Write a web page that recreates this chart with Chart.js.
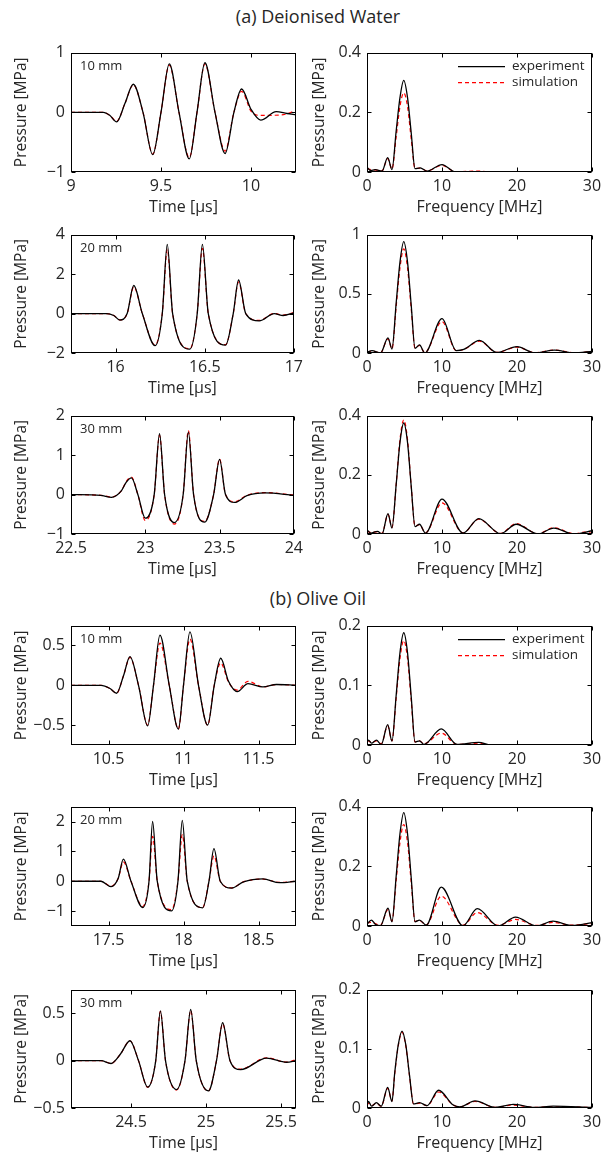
<!DOCTYPE html>
<html><head><meta charset="utf-8">
<script src="https://cdn.jsdelivr.net/npm/chart.js@4.4.1/dist/chart.umd.min.js"></script>
<style>
html,body{margin:0;padding:0;background:#fff;}
body{width:608px;height:1156px;position:relative;overflow:hidden;font-family:'Open Sans',sans-serif;}
canvas{position:absolute;}
.ttl{position:absolute;font-size:18px;color:#262626;white-space:nowrap;transform:translate(-50%,-50%);}
</style></head><body>
<div class="ttl" style="left:318px;top:16px">(a) Deionised Water</div>
<div class="ttl" style="left:318px;top:598px">(b) Olive Oil</div>
<script>
// ---------- DATA ----------
const seriesNames = ['experiment', 'simulation'];
const distances = ['10 mm', '20 mm', '30 mm'];

// Deionised water, time domain [us, MPa]
const dwT10Exp = [[9.0,0],[9.18,0],[9.215,-0.05],[9.254,-0.16],[9.30,0.15],[9.346,0.47],[9.40,0],[9.454,-0.71],[9.50,0],[9.546,0.81],[9.60,0],[9.657,-0.78],[9.70,0],[9.744,0.83],[9.80,0],[9.856,-0.69],[9.905,0],[9.948,0.39],[10.0,0.05],[10.054,-0.13],[10.14,0.01],[10.2,-0.02],[10.25,-0.04]];
const dwT10Sim = [[9.0,0],[9.18,0],[9.215,-0.05],[9.254,-0.15],[9.30,0.15],[9.346,0.46],[9.40,0],[9.454,-0.70],[9.50,0],[9.546,0.79],[9.60,0],[9.657,-0.76],[9.70,0],[9.744,0.81],[9.80,0],[9.856,-0.65],[9.905,0],[9.948,0.35],[10.0,0.02],[10.04,-0.05],[10.1,-0.05],[10.18,-0.04],[10.25,0.03]];
const dwT20Exp = [[15.75,0],[15.95,0],[15.99,-0.1],[16.024,-0.33],[16.065,0],[16.102,1.42],[16.15,0],[16.222,-1.63],[16.262,0],[16.29,3.5],[16.32,0],[16.417,-1.8],[16.458,0],[16.487,3.5],[16.52,0],[16.617,-1.6],[16.66,0],[16.69,1.7],[16.73,0],[16.806,-0.37],[16.89,0.0],[16.94,-0.1],[17.0,0.03]];
const dwT20Sim = [[15.75,0],[15.95,0],[15.99,-0.1],[16.024,-0.32],[16.065,0],[16.102,1.35],[16.15,0],[16.222,-1.6],[16.262,0],[16.29,3.25],[16.32,0],[16.417,-1.78],[16.458,0],[16.487,3.3],[16.52,0],[16.617,-1.58],[16.66,0],[16.69,1.6],[16.73,0],[16.806,-0.35],[16.89,0.0],[16.94,-0.08],[17.0,0.05]];
const dwT30Exp = [[22.5,0],[22.7,-0.02],[22.773,-0.07],[22.84,0.1],[22.87,0.3],[22.907,0.42],[22.95,0],[23.0,-0.6],[23.06,0],[23.096,1.54],[23.13,0],[23.196,-0.71],[23.255,0],[23.29,1.58],[23.325,0],[23.4,-0.7],[23.46,0],[23.5,0.89],[23.54,0],[23.602,-0.2],[23.684,-0.03],[23.807,0.04],[24.0,-0.02]];
const dwT30Sim = [[22.5,0],[22.7,-0.02],[22.773,-0.06],[22.84,0.1],[22.87,0.32],[22.907,0.44],[22.95,0],[23.0,-0.66],[23.06,0],[23.096,1.5],[23.13,0],[23.196,-0.75],[23.255,0],[23.29,1.62],[23.325,0],[23.4,-0.68],[23.46,0],[23.5,0.9],[23.54,0],[23.602,-0.18],[23.684,-0.02],[23.807,0.05],[24.0,-0.01]];

// Deionised water, spectra [MHz, MPa]
const dwF10Exp = [[0,0.016],[0.5,0.005],[1.1,0.008],[2.0,0.003],[2.76,0.048],[3.33,0.008],[3.9,0.14],[4.4,0.25],[4.9,0.307],[5.4,0.25],[5.9,0.13],[6.4,0.011],[7.1,0.014],[8.0,0.003],[10.0,0.025],[11.8,0.0005],[15,0.001],[30,0]];
const dwF10Sim = [[0,0.012],[0.5,0.008],[1.1,0.007],[2.0,0.004],[2.76,0.045],[3.33,0.01],[3.9,0.12],[4.4,0.22],[4.9,0.265],[5.4,0.22],[5.9,0.11],[6.4,0.012],[7.1,0.013],[8.0,0.004],[10.0,0.022],[11.8,0.001],[15,0.003],[16.5,0],[30,0]];
const dwF20Exp = [[0,0.005],[0.67,0.02],[1.8,0],[2.8,0.128],[3.33,0.033],[3.9,0.43],[4.4,0.77],[4.9,0.94],[5.4,0.77],[5.9,0.40],[6.4,0.04],[7.0,0.068],[7.7,0],[10.0,0.29],[11.9,0.02],[12.9,0.03],[15.0,0.106],[17.3,0.005],[20.0,0.054],[22.4,0],[25.0,0.024],[27.6,0],[30,0.014]];
const dwF20Sim = [[0,0.01],[0.67,0.015],[1.8,0.002],[2.8,0.12],[3.33,0.035],[3.9,0.40],[4.4,0.72],[4.9,0.88],[5.4,0.72],[5.9,0.37],[6.4,0.04],[7.0,0.065],[7.7,0.003],[10.0,0.265],[11.9,0.02],[12.9,0.03],[15.0,0.1],[17.3,0.005],[20.0,0.05],[22.4,0.002],[25.0,0.025],[27.6,0.002],[30,0.012]];
const dwF30Exp = [[0,0.014],[0.5,0.003],[1.4,0.009],[2.0,0],[2.8,0.069],[3.33,0.02],[3.9,0.17],[4.4,0.31],[4.9,0.375],[5.4,0.31],[5.9,0.16],[6.4,0.025],[7.0,0.033],[7.8,0.003],[10.0,0.118],[12.8,0.003],[14.9,0.052],[17.8,0.001],[19.9,0.033],[22.8,0],[24.9,0.02],[27.6,0],[30,0.011]];
const dwF30Sim = [[0,0.01],[0.5,0.005],[1.4,0.008],[2.0,0.002],[2.8,0.066],[3.33,0.022],[3.9,0.17],[4.4,0.32],[4.9,0.385],[5.4,0.32],[5.9,0.16],[6.4,0.027],[7.0,0.032],[7.8,0.004],[10.0,0.105],[12.8,0.004],[14.9,0.05],[17.8,0.002],[19.9,0.035],[22.8,0.001],[24.9,0.021],[27.6,0.001],[29,0.006],[30,0.003]];

// Olive oil, time domain [us, MPa]
const ooT10Exp = [[10.25,0],[10.45,0],[10.51,-0.04],[10.554,-0.1],[10.6,0.12],[10.643,0.36],[10.70,0],[10.761,-0.51],[10.80,0],[10.843,0.63],[10.905,0],[10.966,-0.55],[11.0,0],[11.043,0.67],[11.10,0],[11.161,-0.5],[11.205,0],[11.248,0.34],[11.30,0.05],[11.359,-0.08],[11.43,0.02],[11.53,-0.02],[11.62,0.01],[11.75,0]];
const ooT10Sim = [[10.25,0],[10.45,0],[10.51,-0.04],[10.554,-0.1],[10.6,0.12],[10.643,0.35],[10.70,0],[10.761,-0.5],[10.80,0],[10.843,0.53],[10.905,0],[10.966,-0.55],[11.0,0],[11.043,0.58],[11.10,0],[11.161,-0.5],[11.205,0],[11.248,0.28],[11.30,0.04],[11.359,-0.06],[11.43,0.05],[11.53,-0.02],[11.62,0.01],[11.75,0]];
const ooT20Exp = [[17.25,0],[17.45,0],[17.517,-0.18],[17.565,0.1],[17.599,0.74],[17.65,0],[17.728,-0.88],[17.77,0],[17.794,2.0],[17.825,0],[17.921,-0.99],[17.963,0],[17.992,2.04],[18.025,0],[18.128,-0.89],[18.17,0],[18.203,1.09],[18.245,0],[18.321,-0.23],[18.4,-0.02],[18.53,0.08],[18.64,-0.05],[18.75,0]];
const ooT20Sim = [[17.25,0],[17.45,0],[17.517,-0.17],[17.565,0.1],[17.599,0.65],[17.65,0],[17.728,-0.85],[17.77,0],[17.794,1.5],[17.825,0],[17.921,-0.95],[17.963,0],[17.992,1.56],[18.025,0],[18.128,-0.88],[18.17,0],[18.203,0.85],[18.245,0],[18.321,-0.22],[18.4,-0.02],[18.53,0.07],[18.64,-0.04],[18.75,0]];
const ooT30Exp = [[24.1,0],[24.3,0],[24.367,-0.03],[24.43,0.07],[24.493,0.21],[24.55,0],[24.611,-0.28],[24.665,0],[24.696,0.525],[24.73,0],[24.804,-0.305],[24.86,0],[24.898,0.54],[24.935,0],[25.016,-0.32],[25.07,0],[25.111,0.4],[25.16,0],[25.231,-0.095],[25.404,0.027],[25.537,-0.017],[25.6,0]];
const ooT30Sim = [[24.1,0],[24.3,0],[24.367,-0.03],[24.43,0.07],[24.493,0.21],[24.55,0],[24.611,-0.28],[24.665,0],[24.696,0.52],[24.73,0],[24.804,-0.31],[24.86,0],[24.898,0.53],[24.935,0],[25.016,-0.32],[25.07,0],[25.111,0.39],[25.16,0],[25.231,-0.09],[25.404,0.03],[25.537,-0.015],[25.6,0.01]];

// Olive oil, spectra [MHz, MPa]
const ooF10Exp = [[0,0.004],[0.2,0.008],[0.6,0.003],[1.25,0.008],[1.9,0.001],[2.76,0.034],[3.33,0.0065],[3.9,0.085],[4.4,0.155],[4.9,0.188],[5.4,0.155],[5.9,0.08],[6.4,0.005],[7.0,0.007],[7.6,0.001],[9.9,0.027],[12.0,0.001],[14.9,0.0045],[16.5,0],[30,0]];
const ooF10Sim = [[0,0.006],[0.2,0.007],[0.6,0.004],[1.25,0.007],[1.9,0.002],[2.76,0.032],[3.33,0.007],[3.9,0.08],[4.4,0.145],[4.9,0.175],[5.4,0.145],[5.9,0.074],[6.4,0.005],[7.0,0.007],[7.6,0.002],[9.9,0.02],[12.0,0.001],[14.9,0.003],[16.5,0],[30,0]];
const ooF20Exp = [[0,0.006],[0.58,0.02],[1.1,0.006],[1.8,0.001],[2.8,0.06],[3.33,0.014],[3.9,0.17],[4.4,0.31],[4.9,0.38],[5.4,0.31],[5.9,0.16],[6.4,0.014],[7.0,0.02],[7.9,0.003],[9.9,0.13],[12.8,0.001],[14.7,0.058],[17.5,0],[19.8,0.03],[22.6,0],[24.8,0.016],[27.3,0.002],[30,0.011]];
const ooF20Sim = [[0,0.01],[0.58,0.012],[1.1,0.008],[1.8,0.003],[2.8,0.055],[3.33,0.016],[3.9,0.155],[4.4,0.28],[4.9,0.34],[5.4,0.28],[5.9,0.145],[6.4,0.015],[7.0,0.018],[7.9,0.004],[9.9,0.1],[12.8,0.003],[14.7,0.045],[17.5,0.002],[19.8,0.022],[22.6,0.002],[24.8,0.012],[27.3,0.003],[30,0.008]];
const ooF30Exp = [[0,0.005],[0.2,0.011],[0.6,0.003],[1.25,0.009],[1.9,0.003],[2.76,0.035],[3.33,0.011],[3.7,0.06],[4.17,0.107],[4.67,0.13],[5.17,0.107],[5.67,0.055],[6.2,0.007],[7.0,0.009],[8.0,0.004],[9.55,0.03],[11.5,0.005],[12.4,0.002],[14.4,0.012],[17.1,0.001],[19.5,0.006],[22.3,0.001],[24.8,0.003],[30,0.001]];
const ooF30Sim = [[0,0.004],[0.2,0.008],[0.6,0.004],[1.25,0.008],[1.9,0.003],[2.76,0.033],[3.33,0.012],[3.7,0.058],[4.17,0.105],[4.67,0.128],[5.17,0.105],[5.67,0.054],[6.2,0.007],[7.0,0.008],[8.0,0.004],[9.55,0.027],[11.5,0.005],[12.4,0.002],[14.4,0.011],[17.1,0.001],[19.5,0.005],[22.3,0.001],[24.8,0.002],[30,0.001]];

// Axis ranges and tick labels
const dwT10X = [9, 10.25],    dwT10XTicks = [9, 9.5, 10],         dwT10Y = [-1, 1],       dwT10YTicks = [-1, 0, 1];
const dwT20X = [15.75, 17],   dwT20XTicks = [16, 16.5, 17],       dwT20Y = [-2, 4],       dwT20YTicks = [-2, 0, 2, 4];
const dwT30X = [22.5, 24],    dwT30XTicks = [22.5, 23, 23.5, 24], dwT30Y = [-1, 2],       dwT30YTicks = [-1, 0, 1, 2];
const ooT10X = [10.25, 11.75],ooT10XTicks = [10.5, 11, 11.5],     ooT10Y = [-0.75, 0.75], ooT10YTicks = [-0.5, 0, 0.5];
const ooT20X = [17.25, 18.75],ooT20XTicks = [17.5, 18, 18.5],     ooT20Y = [-1.5, 2.5],   ooT20YTicks = [-1, 0, 1, 2];
const ooT30X = [24.1, 25.6],  ooT30XTicks = [24.5, 25, 25.5],     ooT30Y = [-0.5, 0.75],  ooT30YTicks = [-0.5, 0, 0.5];
const freqX = [0, 30], freqXTicks = [0, 10, 20, 30];
const dwF10Y = [0, 0.4], dwF10YTicks = [0, 0.2, 0.4];
const dwF20Y = [0, 1],   dwF20YTicks = [0, 0.5, 1];
const dwF30Y = [0, 0.4], dwF30YTicks = [0, 0.2, 0.4];
const ooF10Y = [0, 0.2], ooF10YTicks = [0, 0.1, 0.2];
const ooF20Y = [0, 0.4], ooF20YTicks = [0, 0.2, 0.4];
const ooF30Y = [0, 0.2], ooF30YTicks = [0, 0.1, 0.2];

const timeTitle = 'Time [\u03bcs]', freqTitle = 'Frequency [MHz]', yTitle = 'Pressure [MPa]';

// ---------- LAYOUT / STYLE ----------
const TXT = '#262626';
const rows = [[49,172],[231,353],[412,534],[622,745],[803,926],[986,1108]];
const panels = [
  {r:0,c:0,e:dwT10Exp,s:dwT10Sim,x:dwT10X,xt:dwT10XTicks,y:dwT10Y,yt:dwT10YTicks,xl:timeTitle,lab:distances[0]},
  {r:0,c:1,e:dwF10Exp,s:dwF10Sim,x:freqX,xt:freqXTicks,y:dwF10Y,yt:dwF10YTicks,xl:freqTitle,leg:true},
  {r:1,c:0,e:dwT20Exp,s:dwT20Sim,x:dwT20X,xt:dwT20XTicks,y:dwT20Y,yt:dwT20YTicks,xl:timeTitle,lab:distances[1]},
  {r:1,c:1,e:dwF20Exp,s:dwF20Sim,x:freqX,xt:freqXTicks,y:dwF20Y,yt:dwF20YTicks,xl:freqTitle},
  {r:2,c:0,e:dwT30Exp,s:dwT30Sim,x:dwT30X,xt:dwT30XTicks,y:dwT30Y,yt:dwT30YTicks,xl:timeTitle,lab:distances[2]},
  {r:2,c:1,e:dwF30Exp,s:dwF30Sim,x:freqX,xt:freqXTicks,y:dwF30Y,yt:dwF30YTicks,xl:freqTitle},
  {r:3,c:0,e:ooT10Exp,s:ooT10Sim,x:ooT10X,xt:ooT10XTicks,y:ooT10Y,yt:ooT10YTicks,xl:timeTitle,lab:distances[0]},
  {r:3,c:1,e:ooF10Exp,s:ooF10Sim,x:freqX,xt:freqXTicks,y:ooF10Y,yt:ooF10YTicks,xl:freqTitle,leg:true},
  {r:4,c:0,e:ooT20Exp,s:ooT20Sim,x:ooT20X,xt:ooT20XTicks,y:ooT20Y,yt:ooT20YTicks,xl:timeTitle,lab:distances[1]},
  {r:4,c:1,e:ooF20Exp,s:ooF20Sim,x:freqX,xt:freqXTicks,y:ooF20Y,yt:ooF20YTicks,xl:freqTitle},
  {r:5,c:0,e:ooT30Exp,s:ooT30Sim,x:ooT30X,xt:ooT30XTicks,y:ooT30Y,yt:ooT30YTicks,xl:timeTitle,lab:distances[2]},
  {r:5,c:1,e:ooF30Exp,s:ooF30Sim,x:freqX,xt:freqXTicks,y:ooF30Y,yt:ooF30YTicks,xl:freqTitle}
];
const cols = [{left:0, axisW:71, padR:12, ytp:12.5}, {left:300, axisW:67, padR:16, ytp:10.5}];
const PADT = 12, XAXH = 45;

function fmt(v){ const s = String(+(+v).toFixed(4)); return s.replace('-', '\u2212'); }

const boxPlugin = {
  id:'box',
  afterDatasetsDraw(chart, args, opts){
    const {ctx, chartArea:a} = chart;
    const L = Math.round(a.left)+0.5, R = Math.round(a.right)-0.5, T = Math.round(a.top)+0.5, B = Math.round(a.bottom)-0.5;
    ctx.save();
    ctx.strokeStyle = '#000'; ctx.lineWidth = 1;
    ctx.beginPath();
    chart.scales.x.ticks.forEach(t => {
      const p = Math.round(chart.scales.x.getPixelForValue(t.value))+0.5;
      ctx.moveTo(p, B); ctx.lineTo(p, B-4); ctx.moveTo(p, T); ctx.lineTo(p, T+4);
    });
    chart.scales.y.ticks.forEach(t => {
      const p = Math.round(chart.scales.y.getPixelForValue(t.value))+0.5;
      ctx.moveTo(L, p); ctx.lineTo(L+4, p); ctx.moveTo(R, p); ctx.lineTo(R-4, p);
    });
    ctx.stroke();
    ctx.strokeRect(L, T, R-L, B-T);
    ctx.fillStyle = TXT; ctx.textBaseline = 'middle';
    if (opts.lab){
      ctx.font = '13px "Open Sans"'; ctx.textAlign = 'left';
      ctx.fillText(opts.lab, a.left+9, a.top+14);
    }
    if (opts.leg){
      ctx.font = '13.5px "Open Sans"'; ctx.textAlign = 'left';
      const ys = [a.top+14, a.top+30];
      ctx.lineWidth = 1.3; ctx.strokeStyle = '#000'; ctx.setLineDash([]);
      ctx.beginPath(); ctx.moveTo(a.right-134, ys[0]); ctx.lineTo(a.right-87, ys[0]); ctx.stroke();
      ctx.lineWidth = 1.2; ctx.strokeStyle = '#f00'; ctx.setLineDash([4,3]);
      ctx.beginPath(); ctx.moveTo(a.right-134, ys[1]); ctx.lineTo(a.right-87, ys[1]); ctx.stroke();
      ctx.setLineDash([]);
      ctx.fillText(seriesNames[0], a.right-80, ys[0]);
      ctx.fillText(seriesNames[1], a.right-80, ys[1]);
    }
    ctx.restore();
  }
};

Chart.defaults.font.family = '"Open Sans", sans-serif';
Chart.defaults.color = TXT;

const toXY = arr => arr.map(p => ({x:p[0], y:p[1]}));

panels.forEach(p => {
  const col = cols[p.c], row = rows[p.r];
  const h = PADT + (row[1]-row[0]) + XAXH;
  const cv = document.createElement('canvas');
  cv.width = 308; cv.height = h;
  cv.style.left = col.left + 'px'; cv.style.top = (row[0]-PADT) + 'px';
  cv.style.width = '308px'; cv.style.height = h + 'px';
  document.body.appendChild(cv);
  new Chart(cv, {
    type:'line',
    data:{datasets:[
      {label:seriesNames[0], data:toXY(p.e), borderColor:'#000', borderWidth:1.3, pointRadius:0, cubicInterpolationMode:'monotone', fill:false},
      {label:seriesNames[1], data:toXY(p.s), borderColor:'#f00', borderWidth:1.2, borderDash:[4,3], pointRadius:0, cubicInterpolationMode:'monotone', fill:false}
    ]},
    options:{
      responsive:false, animation:false, devicePixelRatio:1,
      layout:{padding:{top:PADT, right:col.padR, left:0, bottom:0}},
      plugins:{legend:{display:false}, tooltip:{enabled:false}, box:{lab:p.lab, leg:p.leg}},
      scales:{
        x:{type:'linear', min:p.x[0], max:p.x[1],
           grid:{display:false, drawTicks:false}, border:{display:false},
           ticks:{padding:5, font:{size:16}, color:TXT, maxRotation:0, autoSkip:false, callback:fmt},
           title:{display:true, text:p.xl, font:{size:16}, color:TXT, padding:{top:0,bottom:0}},
           afterBuildTicks: s => { s.ticks = p.xt.map(v => ({value:v})); },
           afterFit: s => { s.height = XAXH; }},
        y:{type:'linear', min:p.y[0], max:p.y[1],
           grid:{display:false, drawTicks:false}, border:{display:false},
           ticks:{padding:6, font:{size:16}, color:TXT, autoSkip:false, callback:fmt},
           title:{display:true, text:yTitle, font:{size:15.5}, color:TXT, padding:{top:col.ytp,bottom:0}},
           afterBuildTicks: s => { s.ticks = p.yt.map(v => ({value:v})); },
           afterFit: s => { s.width = col.axisW; }}
      }
    },
    plugins:[boxPlugin]
  });
});
</script>
</body></html>
